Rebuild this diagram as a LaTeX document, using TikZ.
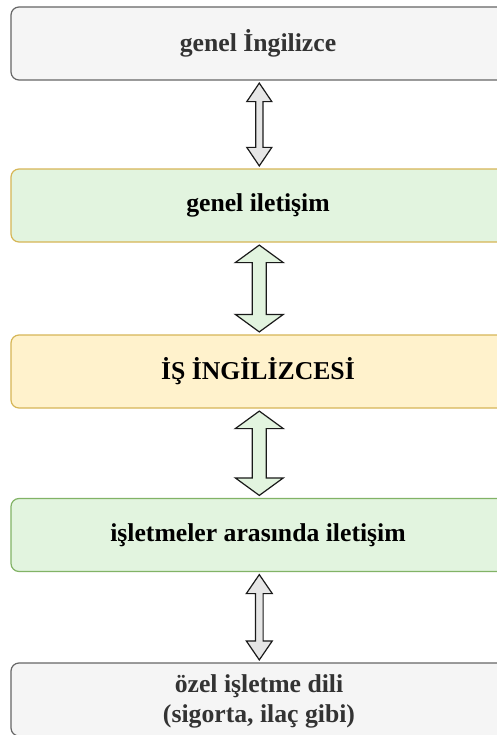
\documentclass[tikz,border=0pt]{standalone}
\usepackage{fontspec}
\setmainfont{Liberation Serif}
\usetikzlibrary{calc}

\definecolor{grayfill}{HTML}{F5F5F5}
\definecolor{grayline}{HTML}{666666}
\definecolor{graytext}{HTML}{333333}
\definecolor{greenfill}{HTML}{E2F4DF}
\definecolor{greenline}{HTML}{82B366}
\definecolor{yellowfill}{HTML}{FFF2CC}
\definecolor{yellowline}{HTML}{D6B656}
\definecolor{arrowgray}{HTML}{E6E6E6}
\definecolor{arrowline}{HTML}{1A1A1A}

\tikzset{
  box/.style={rounded corners=8bp, minimum width=494bp, minimum height=73bp,
    line width=1.2bp, inner sep=0pt, align=center,
    font=\fontsize{25.7bp}{30bp}\selectfont\bfseries},
  graybox/.style={box, draw=grayline, fill=grayfill, text=graytext},
  greenbox/.style={box, draw=greenline, fill=greenfill, text=black},
  goldgreenbox/.style={box, draw=yellowline, fill=greenfill, text=black},
  yellowbox/.style={box, draw=yellowline, fill=yellowfill, text=black},
  grayarrow/.style={draw=arrowline, fill=arrowgray, line width=1.2bp, line join=miter},
  greenarrow/.style={draw=arrowline, fill=greenfill, line width=1.2bp, line join=miter},
}

% Two-headed block arrow between the bottom of one node and the top of the next.
% #1 style, #2 upper node, #3 lower node, #4 head half-width, #5 head length, #6 shaft half-width
\newcommand\blockarrow[6]{%
  \draw[#1] let \p1=($(#2.south)+(1.3,2.5)$), \p2=($(#3.north)+(1.3,-2.5)$) in
    (\x1,\y1) -- (\x1+#4,\y1-#5) -- (\x1+#6,\y1-#5) -- (\x1+#6,\y2+#5)
    -- (\x1+#4,\y2+#5) -- (\x1,\y2) -- (\x1-#4,\y2+#5) -- (\x1-#6,\y2+#5)
    -- (\x1-#6,\y1-#5) -- (\x1-#4,\y1-#5) -- cycle;}

\begin{document}
\begin{tikzpicture}[x=1bp,y=-1bp]
  \useasboundingbox (0,0) rectangle (497,735);
  \clip (0,0) rectangle (497,735);

  \node[graybox]      (general)  at (258,43.5)  {genel İngilizce};
  \node[goldgreenbox] (commgen)  at (258,205.5) {genel iletişim};
  \node[yellowbox]    (business) at (258,371.5) {İŞ İNGİLİZCESİ};
  \node[greenbox]     (commbiz)  at (258,535)   {işletmeler arasında iletişim};
  \node[graybox]      (special)  at (258,699.5) {};
  \node[font=\fontsize{25.7bp}{30bp}\selectfont\bfseries, text=graytext, align=center,
        inner sep=0pt] (speciallabel) at ($(special.center)+(1,2)$)
        {özel işletme dili\\(sigorta, ilaç gibi)};

  \blockarrow{grayarrow}{general}{commgen}{12.5bp}{18.5bp}{3.6bp}
  \blockarrow{greenarrow}{commgen}{business}{24bp}{17.5bp}{7bp}
  \blockarrow{greenarrow}{business}{commbiz}{24bp}{17.5bp}{7bp}
  \blockarrow{grayarrow}{commbiz}{special}{13bp}{19bp}{3.8bp}
\end{tikzpicture}
\end{document}
